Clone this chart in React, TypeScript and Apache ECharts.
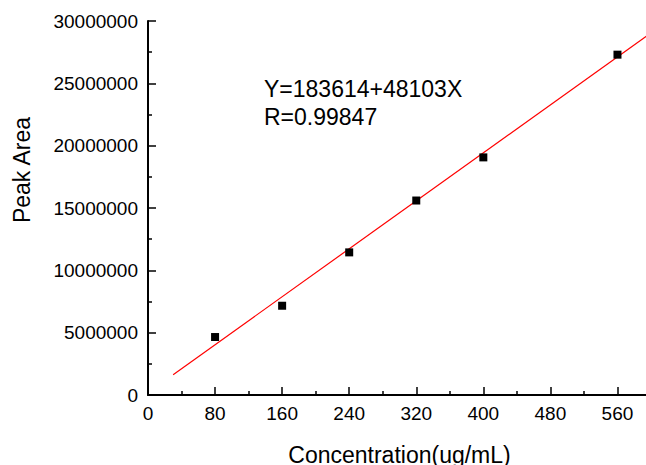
import React, { useEffect, useRef } from "react";
import * as echarts from "echarts";

const concentrations = [80, 160, 240, 320, 400, 560];
const peakAreas = [4650000, 7160000, 11440000, 15600000, 19060000, 27300000];
const fitIntercept = 183614;
const fitSlope = 48103;
const fitRangeX = [30, 600];
const equationLines = ["Y=183614+48103X", "R=0.99847"];

export default function App() {
  const ref = useRef<HTMLDivElement>(null);
  useEffect(() => {
    if (!ref.current) return;
    const chart = echarts.init(ref.current, undefined, { renderer: "svg" });
    const font = "Arial, 'Liberation Sans', sans-serif";
    const fitData = fitRangeX.map((x) => [x, fitIntercept + fitSlope * x]);
    chart.setOption({
      animation: false,
      backgroundColor: "#ffffff",
      grid: {
        left: 148,
        top: 21,
        width: 503,
        height: 374,
        containLabel: false,
        outerBoundsMode: "none",
      },
      xAxis: {
        type: "value",
        min: 0,
        max: 600,
        interval: 80,
        name: "Concentration(ug/mL)",
        nameLocation: "middle",
        nameGap: 48,
        nameTextStyle: { fontSize: 23, color: "#000", fontFamily: font },
        axisLine: { show: true, onZero: false, lineStyle: { color: "#000", width: 2 } },
        axisTick: { show: true, inside: true, length: 8, lineStyle: { color: "#000", width: 1.5 } },
        minorTick: { show: true, splitNumber: 2, length: 4, lineStyle: { color: "#000", width: 1.5 } },
        axisLabel: {
          fontSize: 19,
          color: "#000",
          fontFamily: font,
          margin: 9,
          showMaxLabel: false,
          formatter: (v: number) => String(v),
        },
        splitLine: { show: false },
        minorSplitLine: { show: false },
      },
      yAxis: {
        type: "value",
        min: 0,
        max: 30000000,
        interval: 5000000,
        axisLine: { show: true, onZero: false, lineStyle: { color: "#000", width: 2 } },
        axisTick: { show: true, inside: true, length: 8, lineStyle: { color: "#000", width: 1.5 } },
        minorTick: { show: true, splitNumber: 2, length: 4, lineStyle: { color: "#000", width: 1.5 } },
        axisLabel: {
          fontSize: 19,
          color: "#000",
          fontFamily: font,
          margin: 10,
          formatter: (v: number) => String(v),
        },
        splitLine: { show: false },
        minorSplitLine: { show: false },
      },
      graphic: [
        {
          type: "text",
          x: 10,
          y: 170,
          rotation: Math.PI / 2,
          style: {
            text: "Peak Area",
            fontSize: 23,
            fontFamily: font,
            fill: "#000",
            align: "center",
            verticalAlign: "top",
          },
        },
        {
          type: "text",
          left: 264,
          top: 75,
          style: {
            text: equationLines.join("\n"),
            fontSize: 23,
            lineHeight: 28,
            fontFamily: font,
            fill: "#000",
          },
        },
      ],
      series: [
        {
          type: "line",
          data: fitData,
          showSymbol: false,
          symbol: "none",
          lineStyle: { color: "#ff0000", width: 1.2 },
          clip: true,
          z: 2,
        },
        {
          type: "scatter",
          data: concentrations.map((c, i) => [c, peakAreas[i]]),
          symbol: "rect",
          symbolSize: 8,
          itemStyle: { color: "#000", opacity: 1 },
          z: 3,
        },
      ],
    });
    return () => chart.dispose();
  }, []);
  return <div ref={ref} style={{ width: 646, height: 465, position: "absolute", left: 0, top: 0 }} />;
}
